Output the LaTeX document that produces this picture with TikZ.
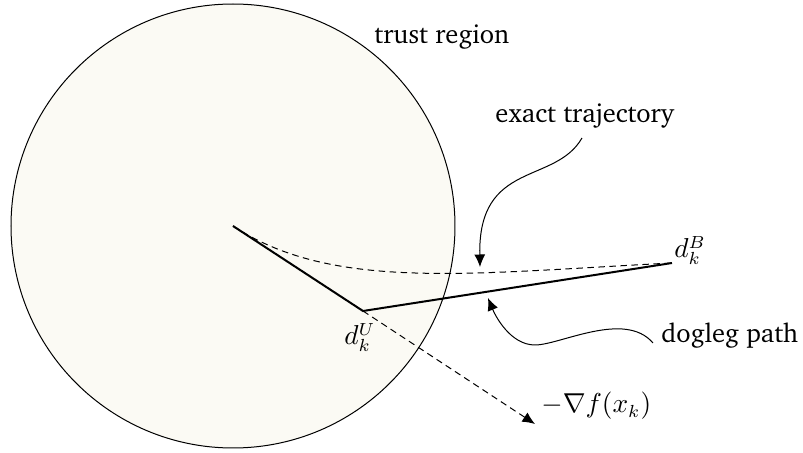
\documentclass[tikz,border=0pt]{standalone}
\usepackage[T1]{fontenc}
\usepackage{charter}
\usetikzlibrary{arrows.meta}
\definecolor{regionfill}{RGB}{251,250,244}
\begin{document}
\begin{tikzpicture}[x=0.4pt,y=-0.4pt,
  lbl/.style={inner sep=0pt, anchor=base west, font=\fontsize{10.6}{12.5}\selectfont},
  pathline/.style={line width=0.8pt},
  dashline/.style={line width=0.4pt, dash pattern=on 2.6pt off 1.8pt},
  tipstyle/.style={-{Latex[length=5pt,width=4.4pt]}},
  callout/.style={line width=0.4pt, tipstyle}]
\useasboundingbox (0,0) rectangle (803,453);
\coordinate (O) at (233,226);
\coordinate (U) at (363,311);
\coordinate (B) at (672,263);
\coordinate (E) at (535,424);
\draw[fill=regionfill, line width=0.4pt] (O) circle[radius=222];
% exact trajectory (dashed curve)
\draw[dashline] (O) .. controls (333,292) and (472,273) .. (B);
% steepest descent direction
\draw[dashline, tipstyle] (U) -- (E);
% dogleg path
\draw[pathline] (O) -- (U) -- (B);
% labels
\node[lbl] (tr) at (374,43) {trust region};
\node[lbl] (et) at (495,123) {exact trajectory};
\node[lbl] (dp) at (661,342) {dogleg path};
\node[lbl] (dB) at (674,258) {$d_k^B$};
\node[lbl] (dU) at (344,345) {$d_k^U$};
\node[lbl] (gr) at (541,413) {$-\nabla f(x_k)$};
% callouts
\coordinate (etS) at (582,138);
\coordinate (etT) at (480,267);
\draw[callout] (etS) .. controls (555,185) and (478,160) .. (etT);
\coordinate (dpS) at (653,343);
\coordinate (dpM) at (535,345);
\coordinate (dpT) at (488,298);
\draw[callout] (dpS) .. controls (625,310) and (560,345) .. (dpM)
  .. controls (510,345) and (495,315) .. (dpT);
\end{tikzpicture}
\end{document}
